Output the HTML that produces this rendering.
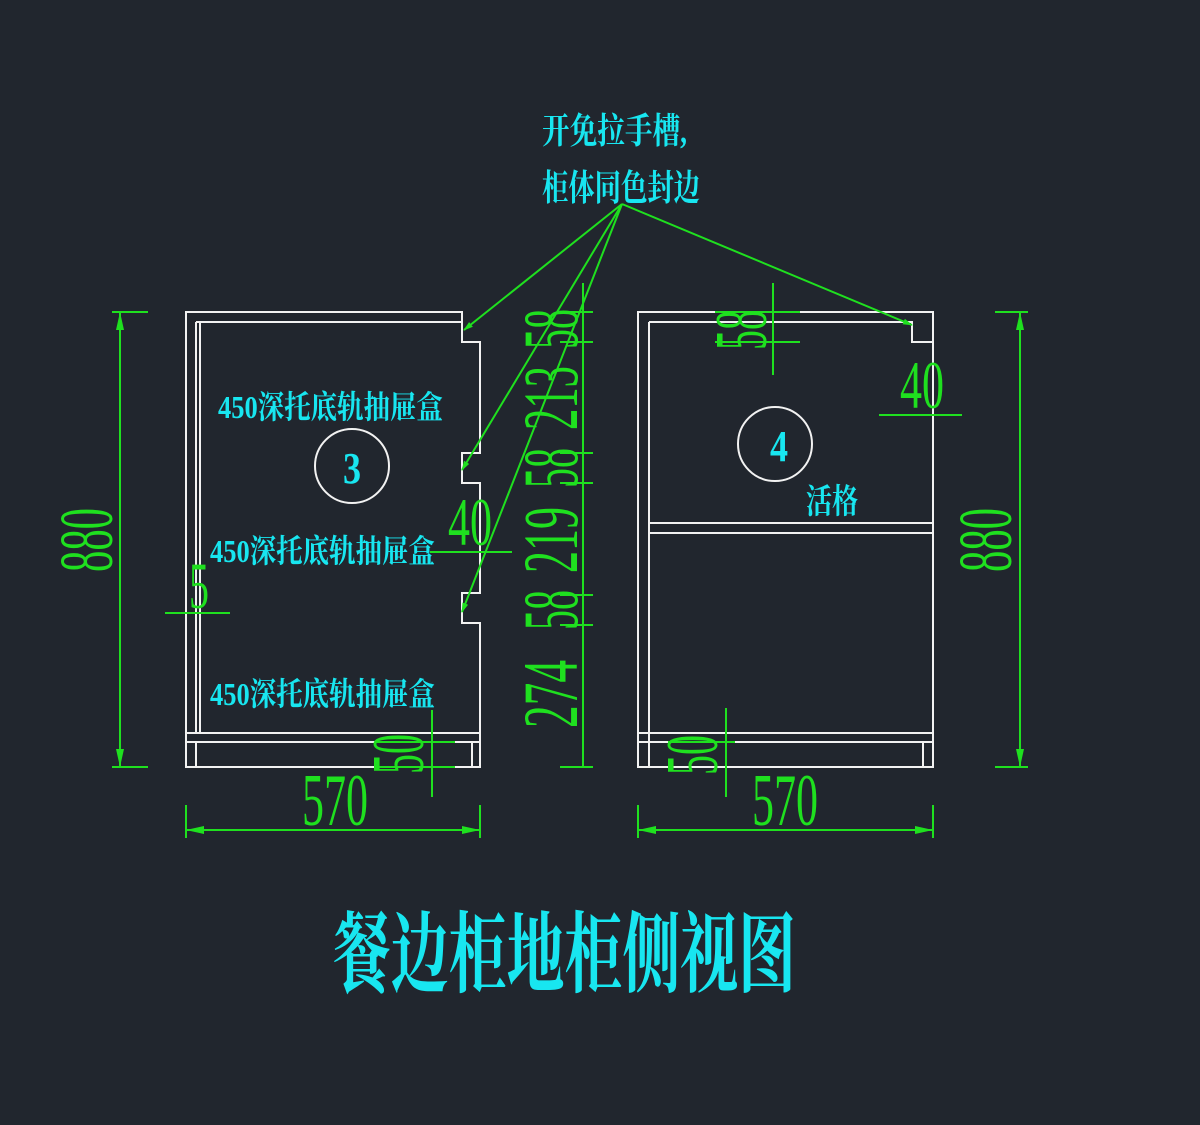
<!DOCTYPE html>
<html><head><meta charset="utf-8"><style>
html,body{margin:0;padding:0;background:#21262e;}
svg{display:block}
.w{stroke:#f2f2f2;stroke-width:2;fill:none}
.g{stroke:#1fe01f;stroke-width:2;fill:none}
.gt{fill:#1fe01f;font-family:"Liberation Serif",serif}
.ct{fill:#18e6f0;font-family:"Liberation Serif","Noto Serif CJK SC",serif;font-weight:bold}
</style></head><body>
<svg width="1200" height="1125" viewBox="0 0 1200 1125" xmlns="http://www.w3.org/2000/svg">
<defs><marker id="a" markerWidth="10" markerHeight="10" refX="9" refY="5" orient="auto" markerUnits="userSpaceOnUse"><path d="M0,2 L10,5 L0,8 Z" fill="#1fe01f"/></marker></defs>

<!-- Left cabinet -->
<path class="w" d="M186,312 H462 V342 H480 V453 H462 V483 H480 V593 H462 V623 H480 V767 H186 Z"/>
<line class="w" x1="196" y1="322" x2="462" y2="322"/>
<line class="w" x1="196" y1="322" x2="196" y2="733"/>
<line class="w" x1="200" y1="322" x2="200" y2="733"/>
<line class="w" x1="186" y1="733" x2="480" y2="733"/>
<line class="w" x1="186" y1="742" x2="480" y2="742"/>
<line class="w" x1="196" y1="742" x2="196" y2="767"/>
<line class="w" x1="472" y1="742" x2="472" y2="767"/>
<circle class="w" cx="352" cy="466" r="37"/>
<text class="ct" x="352" y="483" font-size="44" text-anchor="middle" font-weight="normal" textLength="18" lengthAdjust="spacingAndGlyphs">3</text>
<text class="ct" x="218" y="418" font-size="32" textLength="225" lengthAdjust="spacingAndGlyphs">450深托底轨抽屉盒</text>
<text class="ct" x="210" y="562" font-size="32" textLength="225" lengthAdjust="spacingAndGlyphs">450深托底轨抽屉盒</text>
<text class="ct" x="210" y="705" font-size="32" textLength="225" lengthAdjust="spacingAndGlyphs">450深托底轨抽屉盒</text>

<!-- Right cabinet -->
<path class="w" d="M638,312 H933 V767 H638 Z"/>
<path class="w" d="M649,322 H912 V342 H933"/>
<line class="w" x1="649" y1="322" x2="649" y2="767"/>
<line class="w" x1="649" y1="523" x2="933" y2="523"/>
<line class="w" x1="649" y1="533" x2="933" y2="533"/>
<line class="w" x1="638" y1="733" x2="933" y2="733"/>
<line class="w" x1="638" y1="742" x2="933" y2="742"/>
<line class="w" x1="923" y1="742" x2="923" y2="767"/>
<circle class="w" cx="775" cy="444" r="37"/>
<text class="ct" x="779" y="461" font-size="44" text-anchor="middle" font-weight="normal" textLength="18" lengthAdjust="spacingAndGlyphs">4</text>
<text class="ct" x="806" y="513" font-size="34" textLength="52" lengthAdjust="spacingAndGlyphs">活格</text>

<!-- Leaders -->
<line class="g" x1="622" y1="204" x2="464" y2="330" marker-end="url(#a)"/>
<line class="g" x1="622" y1="204" x2="462" y2="470" marker-end="url(#a)"/>
<line class="g" x1="622" y1="204" x2="462" y2="612" marker-end="url(#a)"/>
<line class="g" x1="622" y1="204" x2="912" y2="325" marker-end="url(#a)"/>
<text class="ct" x="542" y="143" font-size="36" textLength="145" lengthAdjust="spacingAndGlyphs">开免拉手槽,</text>
<text class="ct" x="542" y="200" font-size="36" textLength="158" lengthAdjust="spacingAndGlyphs">柜体同色封边</text>

<!-- 880 left -->
<line class="g" x1="120" y1="312" x2="120" y2="767"/>
<line class="g" x1="112" y1="312" x2="148" y2="312"/>
<line class="g" x1="112" y1="767" x2="148" y2="767"/>
<path d="M120,312 l-4,18 h8z M120,767 l-4,-18 h8z" fill="#1fe01f"/>
<text class="gt" transform="translate(112,540) rotate(-90)" font-size="76" text-anchor="middle" textLength="64" lengthAdjust="spacingAndGlyphs">880</text>
<!-- 880 right -->
<line class="g" x1="1020" y1="312" x2="1020" y2="767"/>
<line class="g" x1="995" y1="312" x2="1028" y2="312"/>
<line class="g" x1="995" y1="767" x2="1028" y2="767"/>
<path d="M1020,312 l-4,18 h8z M1020,767 l-4,-18 h8z" fill="#1fe01f"/>
<text class="gt" transform="translate(1011,540) rotate(-90)" font-size="76" text-anchor="middle" textLength="64" lengthAdjust="spacingAndGlyphs">880</text>

<!-- chain -->
<line class="g" x1="583" y1="283" x2="583" y2="767"/>
<g class="g">
<line x1="560" y1="312" x2="593" y2="312"/><line x1="560" y1="342" x2="593" y2="342"/>
<line x1="560" y1="453" x2="593" y2="453"/><line x1="560" y1="483" x2="593" y2="483"/>
<line x1="560" y1="595" x2="593" y2="595"/><line x1="560" y1="625" x2="593" y2="625"/>
<line x1="560" y1="767" x2="593" y2="767"/>
</g>
<g class="gt" font-size="78" text-anchor="middle">
<text transform="translate(577,329) rotate(-90)" textLength="40" lengthAdjust="spacingAndGlyphs">58</text>
<text transform="translate(577,398) rotate(-90)" textLength="64" lengthAdjust="spacingAndGlyphs">213</text>
<text transform="translate(577,468) rotate(-90)" textLength="40" lengthAdjust="spacingAndGlyphs">58</text>
<text transform="translate(577,540) rotate(-90)" textLength="66" lengthAdjust="spacingAndGlyphs">219</text>
<text transform="translate(577,610) rotate(-90)" textLength="40" lengthAdjust="spacingAndGlyphs">58</text>
<text transform="translate(577,694) rotate(-90)" textLength="68" lengthAdjust="spacingAndGlyphs">274</text>
</g>

<!-- 40 left, 5, 50 -->
<line class="g" x1="430" y1="552" x2="512" y2="552"/>
<text class="gt" x="470" y="545" font-size="68" text-anchor="middle" textLength="44" lengthAdjust="spacingAndGlyphs">40</text>
<line class="g" x1="165" y1="613" x2="230" y2="613"/>
<text class="gt" x="199" y="608" font-size="66" text-anchor="middle" textLength="20" lengthAdjust="spacingAndGlyphs">5</text>
<line class="g" x1="432" y1="710" x2="432" y2="797"/>
<line class="g" x1="375" y1="742" x2="455" y2="742"/>
<line class="g" x1="375" y1="767" x2="455" y2="767"/>
<text class="gt" transform="translate(423,754) rotate(-90)" font-size="74" text-anchor="middle" textLength="40" lengthAdjust="spacingAndGlyphs">50</text>

<!-- right small dims -->
<line class="g" x1="773" y1="283" x2="773" y2="375"/>
<line class="g" x1="715" y1="312" x2="800" y2="312"/>
<line class="g" x1="715" y1="342" x2="800" y2="342"/>
<text class="gt" transform="translate(766,330) rotate(-90)" font-size="74" text-anchor="middle" textLength="40" lengthAdjust="spacingAndGlyphs">58</text>
<line class="g" x1="879" y1="415" x2="962" y2="415"/>
<text class="gt" x="922" y="408" font-size="68" text-anchor="middle" textLength="44" lengthAdjust="spacingAndGlyphs">40</text>
<line class="g" x1="726" y1="708" x2="726" y2="797"/>
<line class="g" x1="668" y1="742" x2="735" y2="742"/>
<text class="gt" transform="translate(717,755) rotate(-90)" font-size="74" text-anchor="middle" textLength="40" lengthAdjust="spacingAndGlyphs">50</text>

<!-- 570 -->
<line class="g" x1="186" y1="830" x2="480" y2="830"/>
<line class="g" x1="186" y1="805" x2="186" y2="838"/>
<line class="g" x1="480" y1="805" x2="480" y2="838"/>
<path d="M186,830 l18,-4 v8z M480,830 l-18,-4 v8z" fill="#1fe01f"/>
<text class="gt" x="335" y="825" font-size="74" text-anchor="middle" textLength="66" lengthAdjust="spacingAndGlyphs">570</text>
<line class="g" x1="638" y1="830" x2="933" y2="830"/>
<line class="g" x1="638" y1="805" x2="638" y2="838"/>
<line class="g" x1="933" y1="805" x2="933" y2="838"/>
<path d="M638,830 l18,-4 v8z M933,830 l-18,-4 v8z" fill="#1fe01f"/>
<text class="gt" x="785" y="825" font-size="74" text-anchor="middle" textLength="66" lengthAdjust="spacingAndGlyphs">570</text>

<!-- title -->
<text class="ct" x="333" y="985" font-size="88" textLength="463" lengthAdjust="spacingAndGlyphs" font-weight="normal">餐边柜地柜侧视图</text>
</svg>
</body></html>
